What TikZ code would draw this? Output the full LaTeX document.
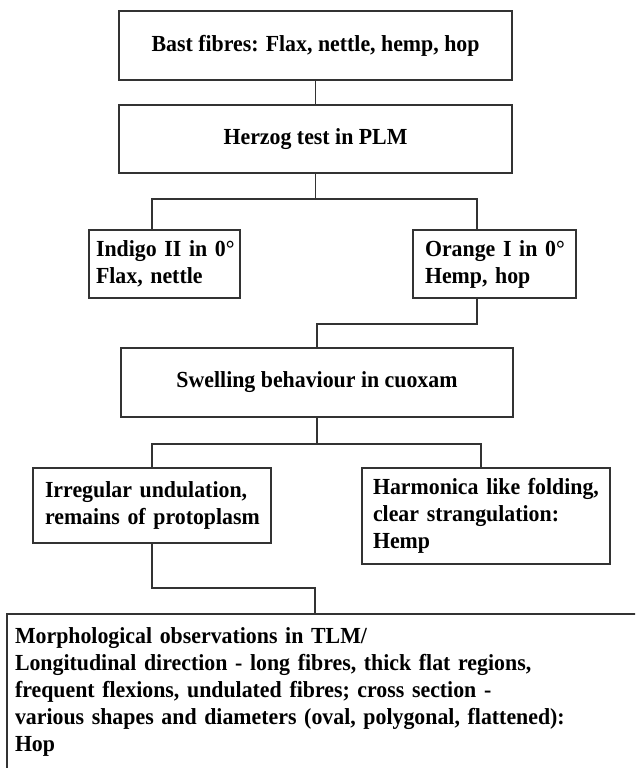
\documentclass[tikz,border=0pt]{standalone}
\usepackage{fontspec}
\setmainfont{Liberation Serif}[FakeStretch=0.95]
\begin{document}
\begin{tikzpicture}[x=1pt,y=-1pt,
  box/.style={draw=black!80, line width=1.6pt, rectangle, inner sep=0pt,
    font=\fontsize{23}{27}\selectfont\bfseries, text=black},
  lbox/.style={box, align=left},
  conn/.style={draw=black!80, line width=1.6pt}]
\useasboundingbox (0,0) rectangle (635,768);
\clip (0,0) rectangle (635,768);
\node[box, minimum width=393pt, minimum height=69pt] (b1) at (315.5,45.5) {Bast fibres: Flax, nettle, hemp, hop};
\node[box, minimum width=393pt, minimum height=68pt] (b2) at (315.5,139) {Herzog test in PLM};
\node[lbox, minimum height=68pt, inner xsep=7pt, text width=137pt] (ind) at (164.5,264) {\mbox{Indigo II in 0°}\\\mbox{Flax, nettle}};
\node[lbox, minimum height=68pt, inner xsep=12pt, text width=139pt] (ora) at (494.5,264) {\mbox{Orange I in 0°}\\\mbox{Hemp, hop}};
\node[box, minimum width=392pt, minimum height=69pt] (sw) at (317,382.5) {Swelling behaviour in cuoxam};
\node[lbox, minimum height=75pt, inner xsep=12pt, text width=214pt] (irr) at (152,505.5) {\mbox{Irregular undulation,}\\\mbox{remains of protoplasm}};
\node[lbox, minimum height=96pt, inner xsep=11pt, text width=226pt] (har) at (486,516) {\mbox{Harmonica like folding,}\\\mbox{clear strangulation:}\\\mbox{Hemp}};
\node[lbox, minimum height=156pt, inner xsep=8pt, text width=617pt] (mor) at (323.5,692) {\mbox{Morphological observations in TLM/}\\\mbox{Longitudinal direction - long fibres, thick flat regions,}\\\mbox{frequent flexions, undulated fibres; cross section -}\\\mbox{various shapes and diameters (oval, polygonal, flattened):}\\\mbox{Hop}};
\draw[conn] (b1.south) -- (b2.north);
\draw[conn] (b2.south) -- ++(0,25) -| ([xshift=64pt]ind.north west);
\draw[conn] (b2.south) -- ++(0,25) -| ([xshift=65pt]ora.north west);
\draw[conn] ([xshift=65pt]ora.south west) -- ++(0,25) -| (sw.north);
\draw[conn] (sw.south) -- ++(0,26) -| ([xshift=120pt]irr.north west);
\draw[conn] (sw.south) -- ++(0,26) -| ([xshift=120pt]har.north west);
\draw[conn] ([xshift=120pt]irr.south west) -- ++(0,44) -| ([xshift=309pt]mor.north west);
\end{tikzpicture}
\end{document}
